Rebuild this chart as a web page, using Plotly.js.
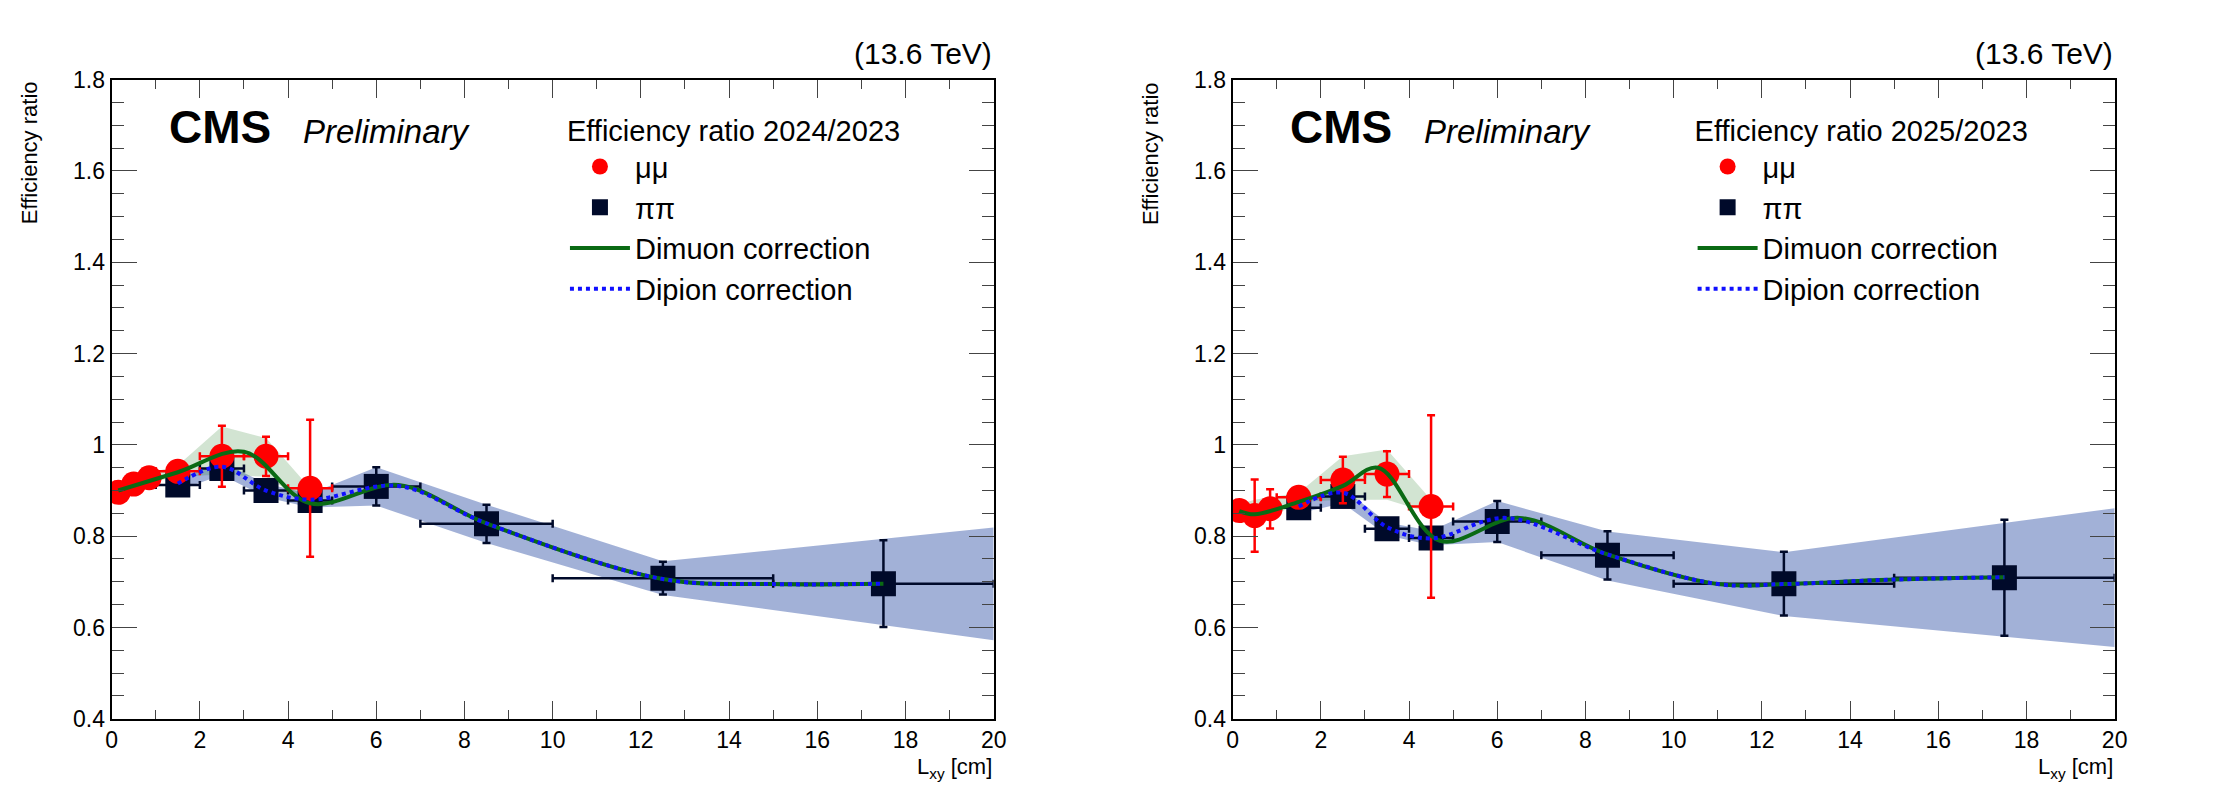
<!DOCTYPE html>
<html><head><meta charset="utf-8">
<script src="https://cdn.plot.ly/plotly-3.0.1.min.js"></script>
<style>body{margin:0;background:#fff}#p{width:2233px;height:796px}</style>
</head><body><div id="p"></div>
<script>
// ---- 2024/2023 ----
var muX24 = [0.15, 0.5, 0.85, 1.5, 2.5, 3.5, 4.5];
var muXerr24 = [0.15, 0.2, 0.15, 0.5, 0.5, 0.5, 0.5];
var muY24 = [0.896, 0.914, 0.928, 0.942, 0.975, 0.975, 0.905];
var muErr24 = [0.01, 0.01, 0.01, 0.012, 0.067, 0.043, 0.15];
var piX = [1.5, 2.5, 3.5, 4.5, 6, 8.5, 12.5, 17.5];
var piXerr = [0.5, 0.5, 0.5, 0.5, 1, 1.5, 2.5, 2.5];
var piY24 = [0.912, 0.948, 0.900, 0.878, 0.909, 0.827, 0.708, 0.696];
var piErr24 = [0.012, 0.015, 0.015, 0.015, 0.042, 0.042, 0.036, 0.095];
var bandX24 = [1.5, 2.5, 3.5, 4.5, 6, 8.5, 12.5, 20];
var bandHi24 = [0.925, 0.962, 0.915, 0.893, 0.951, 0.869, 0.745, 0.819];
var bandLo24 = [0.900, 0.934, 0.885, 0.863, 0.867, 0.785, 0.671, 0.572];
var gBandHi24 = [0.905, 0.924, 0.938, 0.955, 1.04, 1.015, 0.905];
var gBandLo24 = [0.887, 0.904, 0.918, 0.93, 0.935, 0.93, 0.87];
var dimuX24 = [0.15, 1.5, 3.0, 4.5, 6.5, 8.5, 12.5, 15, 17.5];
var dimuY24 = [0.900, 0.940, 0.985, 0.872, 0.912, 0.828, 0.706, 0.695, 0.696];
var dipiX24 = [1.5, 2.5, 3.5, 4.5, 6.5, 8.5, 12.5, 15, 17.5];
var dipiY24 = [0.915, 0.952, 0.900, 0.880, 0.910, 0.828, 0.706, 0.695, 0.696];

// ---- 2025/2023 ----
var muX25 = [0.15, 0.5, 0.85, 1.5, 2.5, 3.5, 4.5];
var muXerr25 = [0.15, 0.2, 0.15, 0.5, 0.5, 0.5, 0.5];
var muY25 = [0.856, 0.845, 0.860, 0.885, 0.923, 0.936, 0.865];
var muErr25 = [0.01, 0.079, 0.043, 0.01, 0.051, 0.05, 0.2];
var piY25 = [0.862, 0.887, 0.816, 0.796, 0.832, 0.758, 0.696, 0.709];
var piErr25 = [0.012, 0.015, 0.012, 0.015, 0.045, 0.053, 0.07, 0.127];
var bandX25 = [1.5, 2.5, 3.5, 4.5, 6, 8.5, 12.5, 20];
var bandHi25 = [0.875, 0.905, 0.83, 0.812, 0.877, 0.81, 0.765, 0.861];
var bandLo25 = [0.85, 0.872, 0.802, 0.78, 0.787, 0.703, 0.625, 0.557];
var gBandHi25 = [0.87, 0.88, 0.885, 0.895, 0.975, 0.99, 0.88];
var gBandLo25 = [0.845, 0.82, 0.84, 0.875, 0.88, 0.88, 0.85];
var dimuX25 = [0.15, 0.5, 1.5, 2.5, 3.3, 4.7, 6.5, 8.5, 11, 12.5, 15, 17.5];
var dimuY25 = [0.855, 0.848, 0.875, 0.910, 0.950, 0.790, 0.840, 0.760, 0.695, 0.695, 0.705, 0.710];
var dipiX25 = [1.5, 2.5, 3.5, 4.5, 6.2, 8.5, 11, 12.5, 15, 17.5];
var dipiY25 = [0.865, 0.895, 0.820, 0.795, 0.840, 0.760, 0.695, 0.695, 0.705, 0.710];

var traces = [];
function panel(xa, ya, lg, p) {
  var base = {xaxis: xa, yaxis: ya, legend: lg};
  function t(o) { traces.push(Object.assign({}, base, o)); }
  t({x: p.bx.concat(p.bx.slice().reverse()), y: p.bh.concat(p.bl.slice().reverse()),
     fill: 'toself', fillcolor: 'rgba(70,100,175,0.5)', line: {width: 0}, mode: 'lines',
     showlegend: false, hoverinfo: 'skip'});
  t({x: p.mx.concat(p.mx.slice().reverse()), y: p.gh.concat(p.gl.slice().reverse()),
     fill: 'toself', fillcolor: 'rgba(30,120,30,0.2)', line: {width: 0}, mode: 'lines',
     showlegend: false, hoverinfo: 'skip'});
  t({x: p.px, y: p.py, mode: 'markers', name: 'ππ',
     marker: {symbol: 'square', size: 25, color: '#000a2a'},
     error_x: {type: 'data', array: p.pxe, color: '#000a2a', thickness: 2.5, width: 4},
     error_y: {type: 'data', array: p.pe, color: '#000a2a', thickness: 2.5, width: 4}, legendrank: 2});
  t({x: p.mx, y: p.my, mode: 'markers', name: 'μμ',
     marker: {symbol: 'circle', size: 25, color: 'red'},
     error_x: {type: 'data', array: p.mxe, color: 'red', thickness: 2.5, width: 4},
     error_y: {type: 'data', array: p.me, color: 'red', thickness: 2.5, width: 4}, legendrank: 1});
  t({x: p.dmx, y: p.dmy, mode: 'lines', name: 'Dimuon correction',
     line: {shape: 'spline', color: '#0a6a14', width: 4}, legendrank: 3});
  t({x: p.dpx, y: p.dpy, mode: 'lines', name: 'Dipion correction',
     line: {shape: 'spline', color: '#1010ff', width: 4, dash: 'dot'}, legendrank: 4});
}
panel('x', 'y', 'legend', {bx: bandX24, bh: bandHi24, bl: bandLo24, mx: muX24, gh: gBandHi24, gl: gBandLo24,
  px: piX, py: piY24, pxe: piXerr, pe: piErr24, my: muY24, mxe: muXerr24, me: muErr24,
  dmx: dimuX24, dmy: dimuY24, dpx: dipiX24, dpy: dipiY24});
panel('x2', 'y2', 'legend2', {bx: bandX25, bh: bandHi25, bl: bandLo25, mx: muX25, gh: gBandHi25, gl: gBandLo25,
  px: piX, py: piY25, pxe: piXerr, pe: piErr25, my: muY25, mxe: muXerr25, me: muErr25,
  dmx: dimuX25, dmy: dimuY25, dpx: dipiX25, dpy: dipiY25});

var F = 'Liberation Sans, Arial, sans-serif';
function xax(dom, anchor) {
  return {domain: dom, anchor: anchor, range: [0, 20], dtick: 2, ticks: 'inside', ticklen: 18,
    minor: {dtick: 1, ticks: 'inside', ticklen: 9}, mirror: 'allticks', showline: true,
    linecolor: '#000', linewidth: 2, showgrid: false, zeroline: false,
    tickfont: {size: 23, family: F, color: '#000'}};
}
function yax(anchor) {
  return {domain: [0.097, 0.9], anchor: anchor, range: [0.4, 1.8], dtick: 0.2, ticks: 'inside', ticklen: 25,
    minor: {dtick: 0.05, ticks: 'inside', ticklen: 12}, mirror: 'allticks', showline: true,
    linecolor: '#000', linewidth: 2, showgrid: false, zeroline: false,
    tickfont: {size: 23, family: F, color: '#000'}};
}
function leg(x, txt) {
  return {x: x, y: 0.87, xanchor: 'left', yanchor: 'top', bgcolor: 'rgba(0,0,0,0)',
    font: {size: 29, family: F, color: '#000'}, traceorder: 'normal', itemwidth: 60,
    title: {text: txt, font: {size: 29, family: F, color: '#000'}}};
}
var doms = [[0.05, 0.445], [0.552, 0.947]];
var ann = [];
doms.forEach(function (d) {
  var w = d[1] - d[0];
  ann.push({xref: 'paper', yref: 'paper', x: d[1], y: 0.91, xanchor: 'right', yanchor: 'bottom',
    text: '(13.6 TeV)', showarrow: false, font: {size: 30, family: F, color: '#000'}});
  ann.push({xref: 'paper', yref: 'paper', x: d[0] + 0.063 * w, y: 0.84, xanchor: 'left', yanchor: 'middle',
    text: '<b>CMS</b>', showarrow: false, font: {size: 46, family: F, color: '#000'}});
  ann.push({xref: 'paper', yref: 'paper', x: d[0] + 0.215 * w, y: 0.835, xanchor: 'left', yanchor: 'middle',
    text: '<i>Preliminary</i>', showarrow: false, font: {size: 33, family: F, color: '#000'}});
  ann.push({xref: 'paper', yref: 'paper', x: d[0] - 0.037, y: 0.9, xanchor: 'center', yanchor: 'top',
    text: 'Efficiency ratio', textangle: -90, showarrow: false, font: {size: 22, family: F, color: '#000'}});
  ann.push({xref: 'paper', yref: 'paper', x: d[1], y: 0.055, xanchor: 'right', yanchor: 'top',
    text: 'L<sub>xy</sub> [cm]', showarrow: false, font: {size: 22, family: F, color: '#000'}});
});
var layout = {
  width: 2233, height: 796, margin: {l: 0, r: 0, t: 0, b: 0},
  paper_bgcolor: '#fff', plot_bgcolor: '#fff', showlegend: true,
  xaxis: xax(doms[0], 'y'), yaxis: yax('x'),
  xaxis2: xax(doms[1], 'y2'), yaxis2: yax('x2'),
  legend: leg(0.253, 'Efficiency ratio 2024/2023'),
  legend2: leg(0.758, 'Efficiency ratio 2025/2023'),
  annotations: ann
};
Plotly.newPlot('p', traces, layout, {staticPlot: true});
</script></body></html>
